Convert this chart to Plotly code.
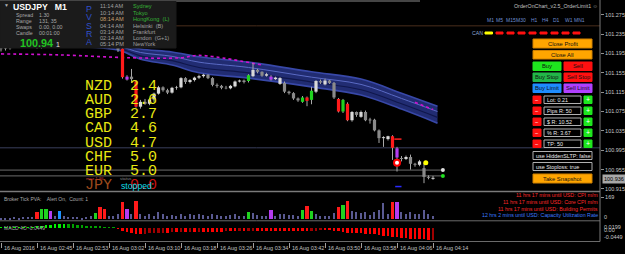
import plotly.graph_objects as go

# ---------------------------------------------------------------- data
time_labels = ["16 Aug 2016", "16 Aug 02:45", "16 Aug 02:53", "16 Aug 03:02", "16 Aug 03:10",
               "16 Aug 03:18", "16 Aug 03:26", "16 Aug 03:34", "16 Aug 03:42", "16 Aug 03:50",
               "16 Aug 03:58", "16 Aug 04:06", "16 Aug 04:14"]
time_label_bars = [0, 8, 16, 24, 32, 40, 48, 56, 64, 72, 80, 88, 96]

opens = [101.204, 101.205, 101.206, 101.210, 101.214, 101.212, 101.216, 101.219, 101.217, 101.207,
         101.220, 101.230, 101.234, 101.231, 101.224, 101.226, 101.223, 101.225, 101.222, 101.224,
         101.221, 101.219, 101.230, 101.218, 101.208, 101.211, 101.210, 101.205, 101.141, 101.147,
         101.137, 101.085, 101.095, 101.091, 101.100, 101.112, 101.125, 101.119, 101.114, 101.124,
         101.125, 101.144, 101.136, 101.140, 101.145, 101.148, 101.151, 101.144, 101.130, 101.128,
         101.124, 101.123, 101.127, 101.137, 101.139, 101.138, 101.148, 101.161, 101.157, 101.149,
         101.141, 101.142, 101.132, 101.134, 101.116, 101.113, 101.102, 101.095, 101.104, 101.099,
         101.116, 101.138, 101.131, 101.139, 101.134, 101.101, 101.075, 101.091, 101.057, 101.074,
         101.064, 101.074, 101.057, 101.058, 101.036, 101.020, 101.018, 101.024, 100.980, 100.979,
         100.977, 100.981, 100.967, 100.965, 100.958, 100.940, 100.938]
highs = [101.207, 101.209, 101.212, 101.216, 101.219, 101.218, 101.221, 101.222, 101.219, 101.222,
         101.232, 101.236, 101.237, 101.233, 101.228, 101.229, 101.227, 101.228, 101.226, 101.227,
         101.224, 101.232, 101.231, 101.220, 101.213, 101.214, 101.212, 101.207, 101.150, 101.163,
         101.139, 101.099, 101.101, 101.103, 101.114, 101.128, 101.127, 101.122, 101.126, 101.128,
         101.146, 101.146, 101.142, 101.147, 101.151, 101.153, 101.152, 101.146, 101.133, 101.130,
         101.128, 101.130, 101.139, 101.141, 101.141, 101.152, 101.175, 101.163, 101.158, 101.155,
         101.150, 101.147, 101.146, 101.137, 101.118, 101.115, 101.104, 101.107, 101.106, 101.126,
         101.140, 101.141, 101.143, 101.140, 101.136, 101.103, 101.101, 101.094, 101.076, 101.075,
         101.077, 101.077, 101.062, 101.060, 101.038, 101.024, 101.025, 101.026, 101.002, 100.983,
         100.984, 100.986, 100.969, 100.975, 100.969, 100.943, 100.942]
lows = [101.199, 101.201, 101.203, 101.207, 101.210, 101.209, 101.213, 101.214, 101.205, 101.205,
        101.218, 101.226, 101.229, 101.222, 101.221, 101.222, 101.220, 101.221, 101.219, 101.220,
        101.217, 101.218, 101.216, 101.206, 101.205, 101.207, 101.198, 101.143, 101.139, 101.134,
        101.083, 101.081, 101.089, 101.088, 101.095, 101.110, 101.116, 101.111, 101.112, 101.120,
        101.123, 101.132, 101.133, 101.137, 101.142, 101.145, 101.142, 101.127, 101.124, 101.121,
        101.121, 101.121, 101.125, 101.135, 101.133, 101.135, 101.146, 101.154, 101.147, 101.147,
        101.139, 101.140, 101.130, 101.113, 101.110, 101.099, 101.095, 101.093, 101.086, 101.090,
        101.113, 101.132, 101.129, 101.132, 101.101, 101.073, 101.072, 101.055, 101.054, 101.064,
        101.062, 101.055, 101.050, 101.034, 101.010, 101.002, 101.015, 100.975, 100.951, 100.972,
        100.975, 100.955, 100.961, 100.962, 100.927, 100.935, 100.934]
closes = [101.205, 101.206, 101.210, 101.214, 101.212, 101.216, 101.219, 101.217, 101.207, 101.220,
          101.230, 101.234, 101.231, 101.224, 101.226, 101.223, 101.225, 101.222, 101.224, 101.221,
          101.219, 101.230, 101.218, 101.208, 101.211, 101.209, 101.203, 101.146, 101.147, 101.142,
          101.085, 101.095, 101.091, 101.100, 101.112, 101.125, 101.119, 101.114, 101.124, 101.125,
          101.144, 101.136, 101.140, 101.145, 101.148, 101.151, 101.144, 101.130, 101.128, 101.124,
          101.123, 101.128, 101.137, 101.139, 101.136, 101.150, 101.161, 101.157, 101.149, 101.152,
          101.147, 101.145, 101.144, 101.116, 101.113, 101.102, 101.098, 101.104, 101.097, 101.118,
          101.138, 101.135, 101.139, 101.134, 101.104, 101.075, 101.099, 101.057, 101.074, 101.068,
          101.074, 101.057, 101.058, 101.036, 101.020, 101.022, 101.024, 101.000, 100.999, 100.977,
          100.981, 100.967, 100.965, 100.972, 100.940, 100.938, 100.936]
# PVSRA class per bar: w bull, d bear, R red climax, G green climax, P violet, B blue
pvsra = list("wwwwdwwdRG" "GPdBwdwdwd" "dGRRwddRPd" "Rwdwwwddww" "wdwwwwdddd"
             "dwwwdGwddw" "PwwddddGRG" "wdwddRGRwd" "wdwddwwRPd" "wddwddw")

tick_volume = [12, 15, 10, 18, 14, 20, 16, 22, 56, 77,
               77, 61, 30, 61, 25, 20, 18, 22, 15, 20,
               25, 46, 94, 77, 30, 25, 38, 131, 77, 40,
               141, 45, 30, 38, 25, 55, 40, 30, 35, 28,
               45, 30, 38, 32, 40, 35, 30, 45, 35, 28,
               30, 35, 40, 30, 25, 56, 50, 35, 30, 25,
               69, 30, 38, 40, 32, 35, 30, 69, 100, 61,
               45, 30, 25, 30, 50, 94, 108, 138, 65, 55,
               50, 60, 35, 55, 75, 123, 45, 128, 128, 60,
               45, 55, 40, 45, 70, 40, 30]

macd_hist = [0.001, 0.0015, 0.002, 0.002, 0.0025, 0.003, 0.003, 0.0035, 0.004, 0.007,
             0.010, 0.013, 0.015, 0.016, 0.016, 0.015, 0.014, 0.012, 0.010, 0.008,
             0.006, 0.005, 0.004, 0.002, 0.001, 0.0005, -0.002, -0.010, -0.016, -0.019,
             -0.022, -0.023, -0.022, -0.021, -0.020, -0.019, -0.018, -0.018, -0.017, -0.017,
             -0.016, -0.016, -0.015, -0.015, -0.014, -0.014, -0.014, -0.014, -0.014, -0.014,
             -0.013, -0.013, -0.013, -0.012, -0.012, -0.011, -0.010, -0.010, -0.010, -0.010,
             -0.010, -0.010, -0.010, -0.011, -0.011, -0.012, -0.012, -0.012, -0.012, -0.011,
             -0.010, -0.009, -0.009, -0.009, -0.010, -0.013, -0.015, -0.018, -0.019, -0.020,
             -0.021, -0.022, -0.023, -0.025, -0.028, -0.030, -0.031, -0.034, -0.037, -0.039,
             -0.040, -0.041, -0.042, -0.042, -0.044, -0.045, -0.0449]

band_idx = [0, 13, 26, 31, 38, 44, 55, 69, 80, 89, 97]
band_hi = [101.231, 101.227, 101.214, 101.204, 101.198, 101.188, 101.177, 101.157, 101.142, 101.113, 101.086]
band_a = [101.225, 101.221, 101.210, 101.197, 101.189, 101.177, 101.166, 101.146, 101.131, 101.102, 101.075]
band_b = [101.219, 101.216, 101.206, 101.190, 101.180, 101.166, 101.155, 101.136, 101.120, 101.091, 101.063]
band_lo = [101.212, 101.210, 101.202, 101.183, 101.171, 101.155, 101.144, 101.126, 101.109, 101.080, 101.051]
mag1_idx = [0, 13, 29, 40, 44, 58]
mag1 = [101.194, 101.192, 101.186, 101.186, 101.191, 101.171]
mag2_idx = [92, 96]
mag2 = [101.094, 101.079]

price_ticks = [101.275, 101.235, 101.195, 101.155, 101.115, 101.075, 101.035, 100.995, 100.955, 100.915]
last_price = 100.936
level_brown = 101.252
level_blue = 101.000
level_sl = 100.954
level_tp = 100.942

currencies = ["NZD", "AUD", "GBP", "CAD", "USD", "CHF", "EUR"]
strengths = ["2.4", "2.6", "2.7", "4.6", "4.7", "5.0", "5.0"]
session_times = ["11:14 AM", "10:14 AM", "08:14 AM", "04:14 AM", "03:14 AM", "02:14 AM", "05:14 PM"]
session_names = ["Sydney", "Tokyo", "HongKong  (L)", "Helsinki  (B)", "Frankfurt", "London  (G+1)", "NewYork"]
news = ["11 hrs 17 mins until USD: CPI m/m", "11 hrs 17 mins until USD: Core CPI m/m",
        "11 hrs 17 mins until USD: Building Permits", "12 hrs 2 mins until USD: Capacity Utilization Rate"]

# ---------------------------------------------------------------- helpers
H = 254
PW = 600
SANS = "Liberation Sans, Arial, sans-serif"
MONO = "Liberation Mono, Courier New, monospace"


def fx(p):
    return p / PW


def fy(p):
    return 1 - p / H


anns = []
shapes = []


def T(text, x, y, color="#b4b4b4", size=5.5, xanchor="left", family=SANS, xref="paper", **kw):
    anns.append(dict(text=text, x=fx(x) if xref == "paper" else x, y=fy(y), xref=xref, yref="paper",
                     showarrow=False, xanchor=xanchor, yanchor="middle", borderpad=0, borderwidth=0,
                     font=dict(family=family, size=size, color=color), **kw))


def RECT(x0, y0, x1, y1, fill, line=None, lw=1):
    shapes.append(dict(type="rect", xref="paper", yref="paper", x0=fx(x0), x1=fx(x1), y0=fy(y1), y1=fy(y0),
                       fillcolor=fill, line=dict(color=line or fill, width=lw), layer="above"))


def HLINE(y, x0, x1, color, w=1):
    shapes.append(dict(type="line", xref="paper", yref="paper", x0=fx(x0), x1=fx(x1), y0=fy(y), y1=fy(y),
                       line=dict(color=color, width=w), layer="above"))


body_col = {"w": "#d9d9d9", "d": "#8a8a8a", "R": "#ff1a1a", "G": "#1fd21f", "P": "#b43cf0", "B": "#1e90ff"}
vol_col = {"w": "#5a5a92", "d": "#5a5a92", "R": "#ff1a1a", "G": "#1fd21f", "P": "#b43cf0", "B": "#1e90ff"}
idx = list(range(len(opens)))

fig = go.Figure()

# MA ribbon
fig.add_trace(go.Scatter(x=band_idx, y=band_hi, mode="lines", line=dict(width=0, shape="spline"),
                         hoverinfo="skip", showlegend=False))
fig.add_trace(go.Scatter(x=band_idx, y=band_lo, mode="lines", line=dict(width=0, shape="spline"),
                         fill="tonexty", fillcolor="#212c72", hoverinfo="skip", showlegend=False))
for arr, col, w in [(band_hi, "#3848a8", 1.6), (band_lo, "#3848a8", 1.6), (band_a, "#5a6ac4", 1),
                    (band_b, "#10174c", 1.2)]:
    fig.add_trace(go.Scatter(x=band_idx, y=arr, mode="lines", line=dict(color=col, width=w, shape="spline"),
                             hoverinfo="skip", showlegend=False))
for mi, mv in [(mag1_idx, mag1), (mag2_idx, mag2)]:
    fig.add_trace(go.Scatter(x=mi, y=mv, mode="lines",
                             line=dict(color="#d010d0", width=1.6, dash="dot", shape="spline"),
                             hoverinfo="skip", showlegend=False))

# level lines ending in markers
for lv in (level_sl, level_tp):
    fig.add_trace(go.Scatter(x=[-1, 98.2], y=[lv, lv], mode="lines", line=dict(color="#6c6c6c", width=1),
                             hoverinfo="skip", showlegend=False))
fig.add_trace(go.Scatter(x=[98.2, 98.2], y=[level_sl, level_tp], mode="markers",
                         marker=dict(size=4, color=["#e0e0e0", "#20e020"]), hoverinfo="skip", showlegend=False))

# candles: wicks then bodies (thick line segments, one trace per PVSRA colour)
wx, wy = [], []
for i in idx:
    wx += [i, i, None]
    wy += [lows[i], highs[i], None]
fig.add_trace(go.Scatter(x=wx, y=wy, mode="lines", line=dict(color="#a8a8a8", width=1),
                         hoverinfo="skip", showlegend=False))
for kind, col in body_col.items():
    bx, by = [], []
    for i in idx:
        if pvsra[i] == kind:
            bx += [i, i, None]
            by += [opens[i], closes[i], None]
    fig.add_trace(go.Scatter(x=bx, y=by, mode="lines", line=dict(color=col, width=3.2),
                             hoverinfo="skip", showlegend=False))

# order markers
fig.add_trace(go.Scatter(x=[88], y=[100.969], mode="markers",
                         marker=dict(size=6, color="#ffffff", line=dict(color="#ff0000", width=2)),
                         hoverinfo="skip", showlegend=False))
fig.add_trace(go.Scatter(x=[94.4], y=[100.969], mode="markers", marker=dict(size=5, color="#ffff00"),
                         hoverinfo="skip", showlegend=False))
fig.add_trace(go.Scatter(x=[87.4, 89.0], y=[101.018, 101.018], mode="lines", line=dict(color="#ff2020", width=1.5),
                         hoverinfo="skip", showlegend=False))
fig.add_trace(go.Scatter(x=[87.6, 89.0], y=[100.920, 100.920], mode="lines", line=dict(color="#2a2aff", width=1.5),
                         hoverinfo="skip", showlegend=False))

# volume panel
fig.add_trace(go.Bar(x=idx, y=tick_volume, width=[0.3 if k in "wd" else 0.7 for k in pvsra],
                     xaxis="x2", yaxis="y2",
                     marker=dict(color=[vol_col[k] for k in pvsra], line=dict(width=0)),
                     hoverinfo="skip", showlegend=False))

# MACD panel
mcol = []
for i, v in enumerate(macd_hist):
    prev = macd_hist[i - 1] if i else v
    if v >= 0:
        mcol.append("#00f000" if v >= prev else "#00a000")
    else:
        mcol.append("#ff0000" if v <= prev else "#a00000")
fig.add_trace(go.Bar(x=idx, y=macd_hist, width=0.55, xaxis="x3", yaxis="y3",
                     marker=dict(color=mcol, line=dict(width=0)), hoverinfo="skip", showlegend=False))

# ---------------------------------------------------------------- axes
xr = [-0.2222, 133.111]
ax_font = dict(family=SANS, size=5.5, color="#c8c8c8")
common_x = dict(range=xr, showgrid=False, zeroline=False, showline=False, fixedrange=True)
fig.update_layout(
    width=625, height=254, margin=dict(l=0, r=25, t=0, b=0),
    paper_bgcolor="#000000", plot_bgcolor="#000000", barmode="overlay", bargap=0,
    showlegend=False,
    xaxis=dict(domain=[0, 1], anchor="y", showticklabels=False, ticks="", **common_x),
    xaxis2=dict(domain=[0, 1], anchor="y2", showticklabels=False, ticks="", **common_x),
    xaxis3=dict(domain=[0, 1], anchor="y3", showticklabels=False, ticks="outside", ticklen=5,
                tickcolor="#a0a0a0", tickwidth=1, tickvals=time_label_bars, **common_x),
    yaxis=dict(domain=[fy(191), 1], range=[100.9108, 101.3054], side="right", anchor="x",
               tickvals=price_ticks, ticktext=[f"{v:.3f}" for v in price_ticks], ticks="outside",
               ticklen=3, tickcolor="#909090", tickfont=ax_font, showgrid=False, zeroline=False,
               showline=False),
    yaxis2=dict(domain=[fy(220), fy(192)], range=[-3.8, 206.6], side="right", anchor="x2",
                tickvals=[169], ticks="outside", ticklen=3, tickcolor="#909090", tickfont=ax_font,
                showgrid=False, zeroline=False, showline=False),
    yaxis3=dict(domain=[fy(241.5), fy(221.5)], range=[-0.0546, 0.0234], side="right", anchor="x3",
                showticklabels=False, ticks="", showgrid=False, zeroline=False, showline=False),
)

# ---------------------------------------------------------------- shapes
shapes.append(dict(type="line", xref="paper", yref="y", x0=0, x1=1, y0=level_brown, y1=level_brown,
                   line=dict(color="#4a2e1c", width=1), layer="below"))
shapes.append(dict(type="line", xref="paper", yref="y", x0=0, x1=1, y0=level_blue, y1=level_blue,
                   line=dict(color="#3a3f5c", width=1), layer="below"))
# separators / borders
HLINE(1, 0, 420, "#8a8a8a", 1)
HLINE(191.5, 0, 600, "#7a7a7a", 1.5)
HLINE(220.8, 0, 600, "#6a6a6a", 1)
HLINE(241.5, 0, 600, "#6a6a6a", 1)
shapes.append(dict(type="line", xref="paper", yref="paper", x0=1, x1=1, y0=fy(241.5), y1=1,
                   line=dict(color="#7a7a7a", width=1), layer="above"))
# info panel
RECT(0, 1.5, 176, 48, "#1b1b1b")

# trading panel buttons
RECT(533, 39, 592, 48, "#ffa500", "#d08000")
RECT(533, 50.5, 592, 59, "#ffa500", "#d08000")
RECT(533, 62, 561, 70.5, "#1ee61e")
RECT(564, 62, 592, 70.5, "#ff1010")
RECT(533, 73, 561, 81.5, "#22b648")
RECT(564, 73, 592, 81.5, "#ff1010")
RECT(533, 84, 561, 92.5, "#1e8cff")
RECT(564, 84, 592, 92.5, "#b040ff")
row_y = [96, 107, 118, 129, 140]
for ry in row_y:
    RECT(533, ry, 541, ry + 7.5, "#ff1010")
    RECT(544, ry, 581, ry + 7.5, "#000000", "#b0b0b0")
    RECT(584, ry, 592, ry + 7.5, "#1ee61e")
RECT(533, 151.5, 592, 159.5, "#000000", "#b0b0b0")
RECT(533, 162.5, 592, 170.5, "#000000", "#b0b0b0")
RECT(533, 174, 592, 183, "#ffa500", "#d08000")

# CAN row
RECT(485, 32, 492.5, 34, "#ffff00")
for k in range(8):
    RECT(496 + k * 11.0, 32, 503 + k * 11.0, 34, "#ff1010")

# ---------------------------------------------------------------- text
# info panel
T("▼", 4, 5.5, "#b0b0b0", 5)
T("<b>USDJPY   M1</b>", 13, 6.8, "#ffffff", 8.7)
for lab, val, yy in [("Spread", "1.30", 14.7), ("Range", "131, 35", 21), ("Swaps", "0.00, 0.00", 27.3),
                     ("Candle", "00:01:00", 33.3)]:
    T(lab, 15.5, yy, "#a8a8a8", 5.3)
    T(val, 38.5, yy, "#a8a8a8", 5.3)
T("<b>100.94</b>", 19.5, 43, "#21c421", 10.8)
T("1", 55.5, 44.8, "#e0e0e0", 7)
for ch, yy in zip("PVSRA", [9.3, 17.5, 25.8, 34, 41.8]):
    T(ch, 88.5, yy, "#3050c8", 8.8, xanchor="center")
sess_y = [6, 12.5, 19, 25.5, 32, 38.2, 44.3]
for k, (tm, nm, yy) in enumerate(zip(session_times, session_names, sess_y)):
    T(tm, 100, yy, "#c8a070" if k == 2 else "#a0a0a0", 5.6)
    T(nm, 133, yy, "#36b436" if k < 3 else "#a0a0a0", 5.6)

# currency strength meter
cur_y = [86.7, 100.7, 114.8, 128.9, 143.1, 157.2, 171.2]
for c, s, yy in zip(currencies, strengths, cur_y):
    T(f"{c}  {s}", 85.5, yy, "#e8e812", 15, family=MONO)
T('<span style="color:#9c4a1c">JPY</span>  <span style="color:#c81414">0.0</span>', 85.5, 185.3,
  "#c81414", 15, family=MONO)
T("max 1.86", 86, 178.3, "#c03030", 4.3)
T("status", 120, 178.3, "#8a8a8a", 4.3)
T("stopped", 121, 186, "#10dce8", 8.7)

# top right
T("OrderOnChart_v2.5_OrderLimit1 ☺", 598, 6, "#c0c0c0", 5.3, xanchor="right")
for lab, xx in [("M1", 487), ("M5", 495.5), ("M15", 506), ("M30", 515.5), ("H1", 531), ("H4", 542),
                ("D1", 553), ("W1", 565), ("MN1", 574)]:
    T(lab, xx, 20.3, "#6f8fd0", 5)
T("CAN", 471.5, 33, "#8fa8d8", 5.2)

# buttons text
for lab, x0, x1, yy in [("Close Profit", 533, 592, 43.5), ("Close All", 533, 592, 54.8),
                        ("Buy", 533, 561, 66.3), ("Sell", 564, 592, 66.3),
                        ("Buy Stop", 533, 561, 77.3), ("Sell Stop", 564, 592, 77.3),
                        ("Buy Limit", 533, 561, 88.3), ("Sell Limit", 564, 592, 88.3),
                        ("Take Snapshot", 533, 592, 178.5)]:
    T(lab, (x0 + x1) / 2, yy, "#101010", 5.8, xanchor="center")
for lab, ry in zip(["Lot: 0.21", "Pips R: 50", "$ R: 10.52", "% R: 3.67", "TP: 50"], row_y):
    T("−", 537, ry + 3.8, "#ffffff", 6, xanchor="center")
    T("+", 588, ry + 3.8, "#ffffff", 7, xanchor="center")
    T(lab, 547, ry + 3.8, "#e8e8e8", 5.4)
T("use HiddenSLTP: false", 535.5, 155.5, "#e8e8e8", 5.4)
T("use Stoploss: true", 535.5, 166.5, "#e8e8e8", 5.4)

# current price box
anns.append(dict(text="100.936", x=1.003, y=last_price, xref="paper", yref="y", showarrow=False,
                 xanchor="left", yanchor="middle", bgcolor="#a8a8a8", borderpad=1,
                 font=dict(family=SANS, size=5.5, color="#000000")))

# lower panels text
T("Broker Tick PVA:    Alert On,  Count: 1", 4, 198.5, "#a8a8a8", 5)
T("MACD 4O -0.0449", 4, 227.5, "#a8a8a8", 5)
for k, (txt, yy) in enumerate(zip(news, [195, 202, 208.8, 215.3])):
    T(txt, 597.5, yy, "#3c7cff" if k == 3 else "#ff2a2a", 5.3, xanchor="right")
T("0", 603.5, 216.5, "#c8c8c8", 5.5)
T("0.0199", 603.5, 226.5, "#c8c8c8", 5.5)
T("0.00", 603.5, 229.8, "#c8c8c8", 5.5)
T("-0.0449", 603.5, 237.3, "#c8c8c8", 5.5)
for lab, b in zip(time_labels, time_label_bars):
    anns.append(dict(text=lab, x=b, y=fy(247.8), xref="x3", yref="paper", showarrow=False, xanchor="left",
                     yanchor="middle", xshift=2, borderpad=0,
                     font=dict(family=SANS, size=5.5, color="#c0c0c0")))

fig.update_layout(shapes=shapes, annotations=anns)
fig.write_html("out.html", config={"displayModeBar": False})
